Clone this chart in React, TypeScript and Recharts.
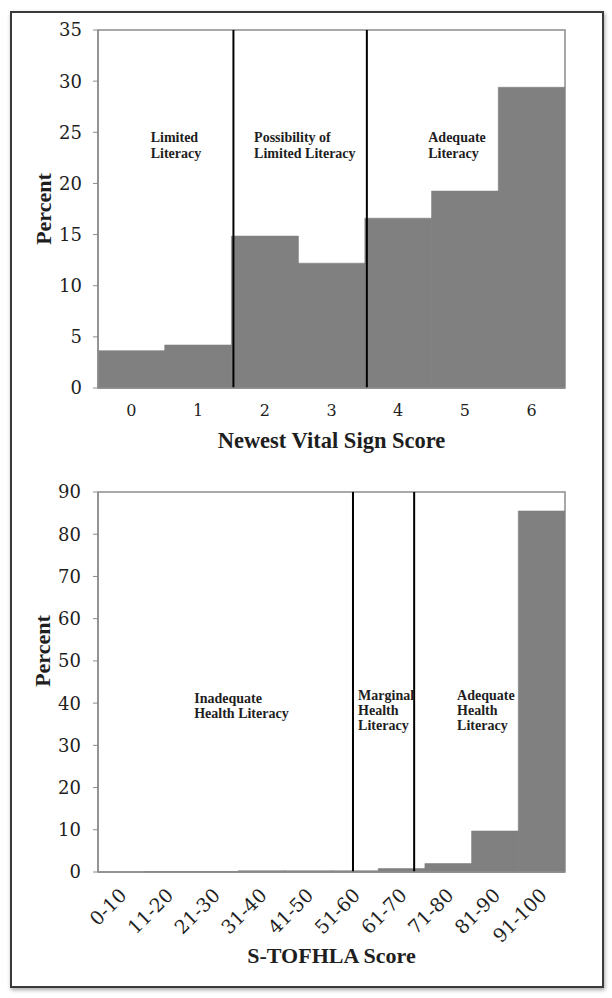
import { Bar, BarChart, Label, ReferenceArea, ReferenceDot, ReferenceLine, XAxis, YAxis } from "recharts"

// Newest Vital Sign panel
const nvsScores = ["0", "1", "2", "3", "4", "5", "6"]
const nvsPercent = [3.65, 4.2, 14.85, 12.2, 16.6, 19.25, 29.4]
const nvsTicks = [0, 5, 10, 15, 20, 25, 30, 35]
const nvsCutoffs = [2.03, 4.03]
const nvsNotes = [
  { x: 0.79, y: 24.05, lines: ["Limited", "Literacy"] },
  { x: 2.34, y: 24.05, lines: ["Possibility of", "Limited Literacy"] },
  { x: 4.95, y: 24.05, lines: ["Adequate", "Literacy"] },
]

// S-TOFHLA panel
const tofhlaScores = ["0-10", "11-20", "21-30", "31-40", "41-50", "51-60", "61-70", "71-80", "81-90", "91-100"]
const tofhlaPercent = [0, 0.1, 0.1, 0.3, 0.3, 0.3, 0.8, 2.0, 9.7, 85.5]
const tofhlaTicks = [0, 10, 20, 30, 40, 50, 60, 70, 80, 90]
const tofhlaCutoffs = [5.46, 6.77]
const tofhlaNotes = [
  { x: 2.06, y: 40.0, lines: ["Inadequate", "Health Literacy"] },
  { x: 5.57, y: 40.7, lines: ["Marginal", "Health", "Literacy"] },
  { x: 7.69, y: 40.7, lines: ["Adequate", "Health", "Literacy"] },
]

// each score bin sits in a unit-wide slot on a numeric axis, so cutoffs can fall between bins
const nvsRows = nvsScores.map((score, i) => ({ score, pos: i + 0.5, percent: nvsPercent[i] }))
const tofhlaRows = tofhlaScores.map((score, i) => ({ score, pos: i + 0.5, percent: tofhlaPercent[i] }))

const barGray = "#808080"
const axisGray = "#8c8c8c"
const ink = "#1e1e1e"
const tickFont = "DejaVu Serif"
const titleFont = "Liberation Serif"

const NoteLabel = ({ viewBox, lines, gap }: any) => {
  const x = viewBox?.x ?? 0
  const y = viewBox?.y ?? 0
  return (
    <text x={x} y={y} fontFamily={titleFont} fontWeight="bold" fontSize={14} fill={ink}>
      {lines.map((line: string, i: number) => (
        <tspan key={i} x={x} dy={i === 0 ? 0 : gap}>{line}</tspan>
      ))}
    </text>
  )
}

const NvsChart = () => (
  <BarChart width={612} height={458} data={nvsRows} margin={{ top: 30, right: 47, bottom: 0, left: 0 }} barCategoryGap={0}>
    <XAxis
      dataKey="pos" type="number" domain={[0, nvsScores.length]} allowDataOverflow
      ticks={nvsRows.map((r) => r.pos)} tickFormatter={(v) => nvsScores[Math.floor(v)]} interval={0}
      height={70} tickLine={false} tickSize={0} tickMargin={17}
      axisLine={{ stroke: axisGray, strokeWidth: 1.5 }}
      tick={{ fontFamily: tickFont, fontSize: 16, fill: ink }}
    >
      <Label value="Newest Vital Sign Score" position="insideBottom" offset={10} fill={ink} fontSize={22.5} fontWeight="bold" fontFamily={titleFont} />
    </XAxis>
    <YAxis
      width={98} domain={[0, 35]} ticks={nvsTicks} interval={0} tickSize={5} tickMargin={11}
      axisLine={{ stroke: axisGray, strokeWidth: 1.5 }} tickLine={{ stroke: axisGray }}
      tick={{ fontFamily: tickFont, fontSize: 18, fill: ink }}
    >
      <Label value="Percent" angle={-90} position="insideLeft" offset={43} style={{ textAnchor: "middle" }} fill={ink} fontSize={22} fontWeight="bold" fontFamily={titleFont} />
    </YAxis>
    <Bar dataKey="percent" fill={barGray} stroke={barGray} strokeWidth={0.6} isAnimationActive={false} />
    <ReferenceArea x1={0} x2={nvsScores.length} y1={0} y2={35} fill="none" stroke={axisGray} strokeWidth={1.5} />
    {nvsCutoffs.map((c) => (
      <ReferenceLine key={c} x={c} stroke="#000" strokeWidth={2} />
    ))}
    {nvsNotes.map((n) => (
      <ReferenceDot key={n.lines.join()} x={n.x} y={n.y} r={0} fill="none" stroke="none"
        label={(p: any) => <NoteLabel {...p} lines={n.lines} gap={16} />} />
    ))}
  </BarChart>
)

const TofhlaChart = () => (
  <BarChart width={612} height={522} data={tofhlaRows} margin={{ top: 32, right: 47, bottom: 0, left: 0 }} barCategoryGap={0}>
    <XAxis
      dataKey="pos" type="number" domain={[0, tofhlaScores.length]} allowDataOverflow
      ticks={tofhlaRows.map((r) => r.pos)} tickFormatter={(v) => tofhlaScores[Math.floor(v)]} interval={0}
      height={110} tickLine={false} tickSize={0} tickMargin={15}
      axisLine={{ stroke: axisGray, strokeWidth: 1.5 }}
      angle={-45} textAnchor="end" dx={-3}
      tick={{ fontFamily: tickFont, fontSize: 19, fill: ink }}
    >
      <Label value="S-TOFHLA Score" position="insideBottom" offset={19} fill={ink} fontSize={22} fontWeight="bold" fontFamily={titleFont} />
    </XAxis>
    <YAxis
      width={98} domain={[0, 90]} ticks={tofhlaTicks} interval={0} tickSize={5} tickMargin={12}
      axisLine={{ stroke: axisGray, strokeWidth: 1.5 }} tickLine={{ stroke: axisGray }}
      tick={{ fontFamily: tickFont, fontSize: 18, fill: ink }}
    >
      <Label value="Percent" angle={-90} position="insideLeft" offset={42} dy={-31} style={{ textAnchor: "middle" }} fill={ink} fontSize={22} fontWeight="bold" fontFamily={titleFont} />
    </YAxis>
    <Bar dataKey="percent" fill={barGray} stroke={barGray} strokeWidth={0.6} isAnimationActive={false} />
    <ReferenceArea x1={0} x2={tofhlaScores.length} y1={0} y2={90} fill="none" stroke={axisGray} strokeWidth={1.5} />
    {tofhlaCutoffs.map((c) => (
      <ReferenceLine key={c} x={c} stroke="#000" strokeWidth={2} />
    ))}
    {tofhlaNotes.map((n) => (
      <ReferenceDot key={n.lines.join()} x={n.x} y={n.y} r={0} fill="none" stroke="none"
        label={(p: any) => <NoteLabel {...p} lines={n.lines} gap={15} />} />
    ))}
  </BarChart>
)

export default function App() {
  return (
    <div style={{ position: "absolute", left: 0, top: 0, width: 612, height: 998, background: "#fff" }}>
      <div
        style={{
          position: "absolute", left: 10, top: 11, width: 594, height: 977, boxSizing: "border-box",
          border: "2px solid #3a3a3a", boxShadow: "1px 2px 4px rgba(0,0,0,0.35)",
        }}
      />
      <div style={{ position: "absolute", left: 0, top: 0 }}>
        <NvsChart />
      </div>
      <div style={{ position: "absolute", left: 0, top: 460 }}>
        <TofhlaChart />
      </div>
    </div>
  )
}
